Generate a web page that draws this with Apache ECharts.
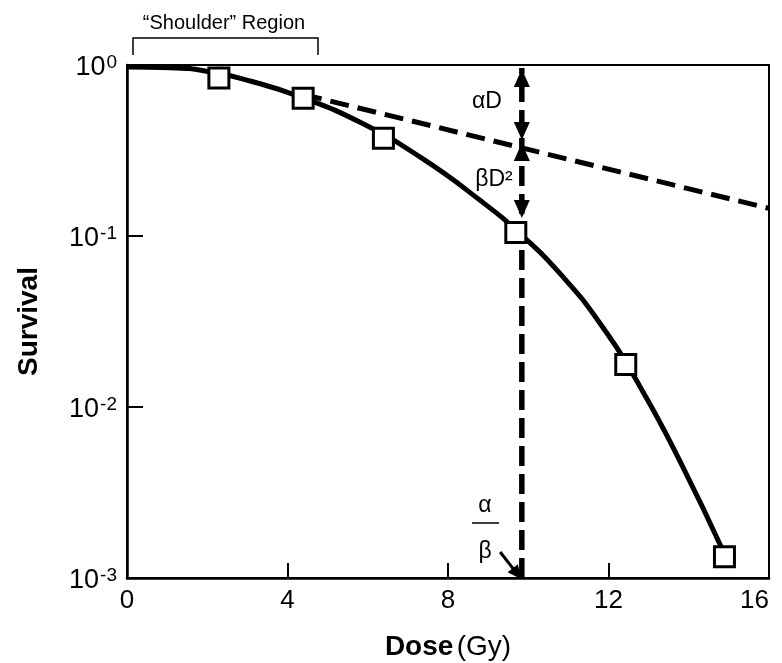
<!DOCTYPE html>
<html>
<head>
<meta charset="utf-8">
<script src="https://cdn.jsdelivr.net/npm/echarts@6/dist/echarts.min.js"></script>
<style>
html,body{margin:0;padding:0;background:#fff;}
#chart{width:782px;height:663px;}
</style>
</head>
<body>
<div id="chart"></div>
<script>
// Data
const markerDose = [2.29, 4.39, 6.39, 9.69, 12.43, 14.89];
const markerSurvival = [0.84, 0.64, 0.373, 0.105, 0.0177, 0.00133];

const curveDose = [0, 1.07, 2.07, 3.07, 4.31, 5.81, 7.31, 8.80, 9.80, 10.80, 11.80, 12.79, 13.79, 14.89];
const curveSurvival = [0.973, 0.965, 0.912, 0.806, 0.652, 0.462, 0.289, 0.1617, 0.1029, 0.0600, 0.0306, 0.01311, 0.00478, 0.00138];

const alphaDose = [4.39, 16];
const alphaSurvival = [0.673, 0.145];

const ratioDose = 9.84;              // alpha/beta
const ratioLineSurvival = [0.001, 0.96];
const arrowSurvival = [0.839, 0.411, 0.31, 0.144];
const arrowRotate = [0, 180, 0, 180];

const xTicks = [0, 4, 8, 12, 16];

const FONT = '"Liberation Sans", Arial, Helvetica, sans-serif';

const chart = echarts.init(document.getElementById('chart'), null, {renderer: 'canvas', width: 782, height: 663});

const option = {
  animation: false,
  backgroundColor: '#fff',
  grid: {left: 127, right: 13, top: 65, bottom: 85, containLabel: false, outerBoundsMode: 'none',
         show: true, borderColor: '#000', borderWidth: 2, backgroundColor: 'transparent'},
  xAxis: {
    type: 'value', min: xTicks[0], max: xTicks[xTicks.length - 1], interval: 4,
    axisLine: {lineStyle: {color: '#000', width: 2.5}},
    axisTick: {inside: true, length: 15, lineStyle: {color: '#000', width: 2}},
    splitLine: {show: false},
    axisLabel: {color: '#000', fontSize: 26, fontFamily: FONT, margin: 10, alignMaxLabel: 'right'},
    name: '{b|Dose} {n|(Gy)}',
    nameLocation: 'middle', nameGap: 55,
    nameTextStyle: {
      rich: {
        b: {fontSize: 28, fontWeight: 'bold', fontFamily: FONT, color: '#000'},
        n: {fontSize: 28, fontFamily: FONT, color: '#000'}
      }
    }
  },
  yAxis: {
    type: 'log', logBase: 10, min: 0.001, max: 1,
    axisLine: {lineStyle: {color: '#000', width: 2.5}},
    axisTick: {inside: true, length: 16, lineStyle: {color: '#000', width: 2}},
    minorTick: {show: false},
    splitLine: {show: false},
    axisLabel: {
      margin: 10,
      formatter: function (v) {
        const e = Math.round(Math.log10(v));
        return '{b|10}{s|' + e + '}';
      },
      rich: {
        b: {fontSize: 27, fontFamily: FONT, color: '#000', lineHeight: 32, verticalAlign: 'bottom'},
        s: {fontSize: 19, fontFamily: FONT, color: '#000', lineHeight: 19, verticalAlign: 'top', padding: [4, 0, 0, 1]}
      }
    },
    name: 'Survival',
    nameLocation: 'middle', nameGap: 84, nameRotate: 90,
    nameTextStyle: {fontSize: 28, fontWeight: 'bold', fontFamily: FONT, color: '#000'}
  },
  series: [
    {
      name: 'curve', type: 'line', smooth: 0.5, showSymbol: false, symbol: 'none',
      data: curveDose.map((d, i) => [d, curveSurvival[i]]),
      lineStyle: {color: '#000', width: 5}, z: 3
    },
    {
      name: 'alphaD', type: 'line', symbol: 'none',
      data: alphaDose.map((d, i) => [d, alphaSurvival[i]]),
      lineStyle: {color: '#000', width: 5, type: [19, 9]}, z: 2
    },
    {
      name: 'ratio', type: 'line', symbol: 'none',
      data: ratioLineSurvival.map(s => [ratioDose, s]),
      lineStyle: {color: '#000', width: 5.5, type: [20, 8]}, z: 2,
      markLine: {
        silent: true, symbol: ['none', 'triangle'], symbolSize: [13, 14], label: {show: false},
        lineStyle: {color: '#000', width: 3, type: 'solid'},
        data: [[{coord: [9.30, 0.00142]}, {coord: [9.72, 0.00106]}]]
      }
    },
    {
      name: 'arrows', type: 'scatter', symbol: 'triangle', symbolSize: [16, 18],
      data: arrowSurvival.map((s, i) => ({value: [ratioDose, s], symbolRotate: arrowRotate[i]})),
      itemStyle: {color: '#000', opacity: 1}, z: 4
    },
    {
      name: 'markers', type: 'scatter', symbol: 'rect', symbolSize: 20,
      data: markerDose.map((d, i) => [d, markerSurvival[i]]),
      itemStyle: {color: '#fff', borderColor: '#000', borderWidth: 3, opacity: 1}, z: 5
    }
  ],
  graphic: [
    {type: 'polyline', shape: {points: [[133, 55], [133, 38], [318, 38], [318, 55]]}, style: {stroke: '#000', lineWidth: 1.5, fill: null}},
    {type: 'text', x: 224, y: 23, style: {text: '\u201CShoulder\u201D Region', font: '20px ' + FONT, fill: '#000', textAlign: 'center', textVerticalAlign: 'middle'}},
    {type: 'text', x: 487, y: 102, style: {text: '\u03B1D', font: '23px ' + FONT, fill: '#000', textAlign: 'center', textVerticalAlign: 'middle'}},
    {type: 'text', x: 494, y: 180, style: {text: '\u03B2D\u00B2', font: '23px ' + FONT, fill: '#000', textAlign: 'center', textVerticalAlign: 'middle'}},
    {type: 'text', x: 485, y: 506, style: {text: '\u03B1', font: '23px ' + FONT, fill: '#000', textAlign: 'center', textVerticalAlign: 'middle'}},
    {type: 'line', shape: {x1: 472, y1: 523, x2: 499, y2: 523}, style: {stroke: '#000', lineWidth: 1.5}},
    {type: 'text', x: 485, y: 552, style: {text: '\u03B2', font: '23px ' + FONT, fill: '#000', textAlign: 'center', textVerticalAlign: 'middle'}}
  ]
};
chart.setOption(option);
</script>
</body>
</html>
